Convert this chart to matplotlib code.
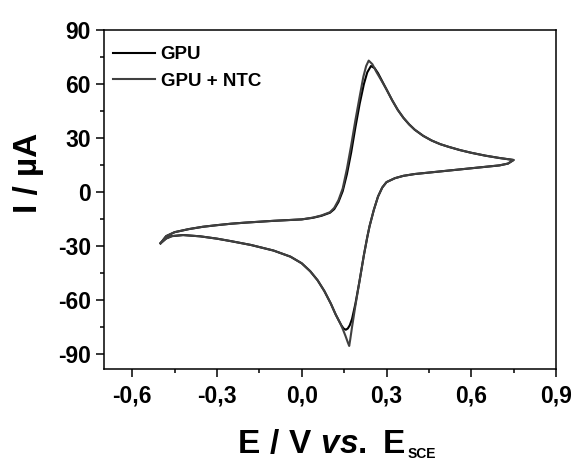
import numpy as np
import matplotlib
matplotlib.use("Agg")
import matplotlib.pyplot as plt
from matplotlib.ticker import MultipleLocator, FuncFormatter

plt.rcParams["font.family"] = ["Liberation Sans", "DejaVu Sans"]
plt.rcParams["font.weight"] = "bold"
plt.rcParams["mathtext.fontset"] = "custom"
plt.rcParams["mathtext.rm"] = "Liberation Sans:bold"
plt.rcParams["mathtext.bf"] = "Liberation Sans:bold"
plt.rcParams["mathtext.it"] = "Liberation Sans:italic:bold"

# --- data (E in V vs SCE, I in uA) ---
# forward (anodic) scan -0.5 -> 0.75, then reverse (cathodic) back to -0.5
gpu_E = [-0.50, -0.48, -0.45, -0.40, -0.35, -0.30, -0.25, -0.20, -0.15, -0.10,
         -0.05, 0.00, 0.04, 0.07, 0.10, 0.115, 0.13, 0.145, 0.16, 0.175,
         0.19, 0.205, 0.22, 0.232, 0.245, 0.258, 0.27, 0.28, 0.30, 0.32,
         0.34, 0.36, 0.38, 0.40, 0.43, 0.46, 0.49, 0.52, 0.56, 0.60,
         0.65, 0.70, 0.75,
         0.73, 0.70, 0.65, 0.60, 0.55, 0.50, 0.45, 0.40, 0.36, 0.33,
         0.30, 0.285, 0.27, 0.255, 0.24, 0.232, 0.22, 0.205, 0.19, 0.178,
         0.17, 0.163, 0.156, 0.148, 0.14, 0.12, 0.103, 0.08, 0.056, 0.03,
         0.00, -0.04, -0.10, -0.18, -0.25, -0.30, -0.36, -0.42, -0.46, -0.48,
         -0.50]
gpu_I = [-28.5, -24.5, -22.3, -20.6, -19.3, -18.4, -17.6, -17.0, -16.5, -16.0,
         -15.6, -15.2, -14.3, -13.2, -11.5, -9.5, -5.5, 0.5, 10.0, 22.0,
         36.0, 49.0, 60.0, 66.5, 70.0, 68.8, 66.0, 63.0, 57.0, 51.0,
         45.6, 41.2, 37.6, 34.6, 31.2, 28.6, 26.6, 25.1, 23.3, 21.8,
         20.2, 18.9, 17.8,
         15.8, 14.8, 14.0, 13.2, 12.4, 11.6, 10.8, 10.0, 9.0, 7.7,
         5.5, 2.5, -2.5, -10.0, -19.0, -25.0, -35.0, -49.0, -62.0, -70.5,
         -74.0, -75.8, -76.5, -75.8, -74.0, -68.0, -62.0, -55.0, -49.0, -44.0,
         -39.6, -35.9, -32.5, -29.4, -27.3, -25.9, -24.6, -23.9, -24.5, -25.8,
         -28.5]

gpu_ntc_E = [-0.50, -0.48, -0.45, -0.40, -0.35, -0.30, -0.25, -0.20, -0.15, -0.10,
             -0.05, 0.00, 0.04, 0.07, 0.10, 0.115, 0.13, 0.145, 0.16, 0.175,
             0.19, 0.205, 0.218, 0.228, 0.237, 0.25, 0.265, 0.28, 0.30, 0.32,
             0.34, 0.36, 0.38, 0.40, 0.43, 0.46, 0.49, 0.52, 0.56, 0.60,
             0.65, 0.70, 0.75,
             0.73, 0.70, 0.65, 0.60, 0.55, 0.50, 0.45, 0.40, 0.36, 0.33,
             0.30, 0.285, 0.27, 0.255, 0.24, 0.232, 0.22, 0.205, 0.19, 0.178,
             0.172, 0.168, 0.163, 0.155, 0.145, 0.138, 0.12, 0.103, 0.08, 0.056,
             0.03, 0.00, -0.04, -0.10, -0.18, -0.25, -0.30, -0.36, -0.42, -0.46,
             -0.48, -0.50]
gpu_ntc_I = [-28.5, -24.5, -22.3, -20.6, -19.3, -18.4, -17.6, -17.0, -16.5, -16.0,
             -15.6, -15.2, -14.2, -13.0, -11.2, -8.8, -4.5, 2.0, 13.0, 26.0,
             40.0, 53.0, 64.0, 70.0, 73.0, 71.0, 66.5, 62.5, 57.0, 51.0,
             45.6, 41.2, 37.6, 34.6, 31.2, 28.6, 26.6, 25.1, 23.3, 21.8,
             20.2, 18.9, 17.8,
             15.8, 14.8, 14.0, 13.2, 12.4, 11.6, 10.8, 10.0, 9.0, 7.7,
             5.5, 2.5, -2.5, -10.0, -19.0, -25.0, -35.0, -49.0, -63.0, -75.0,
             -81.5, -85.5, -83.5, -80.0, -76.0, -73.5, -68.0, -62.0, -55.0, -49.0,
             -44.0, -39.6, -35.9, -32.5, -29.4, -27.3, -25.9, -24.6, -23.9, -24.5,
             -25.8, -28.5]

x_ticks = [-0.6, -0.3, 0.0, 0.3, 0.6, 0.9]
y_ticks = [-90, -60, -30, 0, 30, 60, 90]

fig = plt.figure(figsize=(5.72, 4.67), dpi=100)
ax = fig.add_axes([104 / 572, 1 - 369 / 467, (556 - 104) / 572, (369 - 30) / 467])

ax.plot(gpu_E, gpu_I, color="#000000", lw=1.5, label="GPU")
ax.plot(gpu_ntc_E, gpu_ntc_I, color="#404040", lw=1.5, label="GPU + NTC")

ax.set_xlim(-0.7, 0.9)
ax.set_ylim(-98.3, 90)
ax.set_xticks(x_ticks)
ax.set_yticks(y_ticks)
ax.xaxis.set_minor_locator(MultipleLocator(0.15))
ax.yaxis.set_minor_locator(MultipleLocator(15))
ax.xaxis.set_major_formatter(FuncFormatter(lambda v, p: f"{v:.1f}".replace(".", ",")))
ax.yaxis.set_major_formatter(FuncFormatter(lambda v, p: f"{v:.0f}"))

ax.tick_params(which="major", direction="out", length=5.5, width=1.1, labelsize=16.5)
ax.tick_params(axis="x", which="major", pad=5.5)
ax.tick_params(axis="y", which="major", pad=4)
ax.tick_params(which="minor", direction="out", length=3, width=1.1)
ax.tick_params(top=False, right=False, which="both")
for s in ax.spines.values():
    s.set_linewidth(1.1)

ax.set_ylabel("I / µA", fontsize=24, fontweight="bold")
ax.yaxis.set_label_coords(-0.133, 0.578)
xl = ax.set_xlabel(r"$\mathrm{E\ /\ V}\ \mathit{vs.}\ \mathrm{E}$", fontsize=24, labelpad=16)
ax.xaxis.label.set_x(0.481)
ax.annotate("SCE", xy=(1.0, 0.0), xycoords=xl, xytext=(1, 0), textcoords="offset points",
            ha="left", va="bottom", fontsize=10, fontweight="bold")

ax.legend(loc="upper left", bbox_to_anchor=(0.003, 0.975), borderaxespad=0,
          frameon=False, handlelength=2.25, handletextpad=0.3, labelspacing=0.5,
          prop={"weight": "bold", "size": 13.5})

fig.savefig("out.png", dpi=100)
